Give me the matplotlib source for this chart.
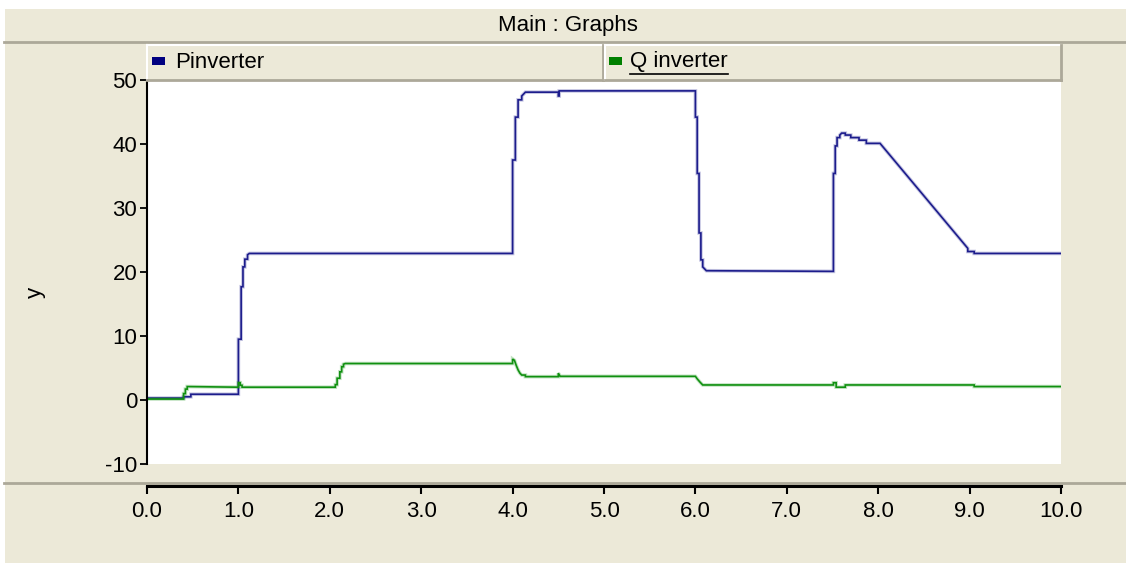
import matplotlib
matplotlib.use("Agg")
import matplotlib.pyplot as plt
from matplotlib.patches import Rectangle
from matplotlib.lines import Line2D
from matplotlib.ticker import FormatStrFormatter

# ---------------- data ----------------
p_time = [0.00, 0.40, 0.40, 0.48, 0.48, 1.00, 1.00, 1.03, 1.03, 1.05, 1.05, 1.07, 1.07,
          1.10, 1.10, 1.12, 4.00, 4.00, 4.03, 4.03, 4.06, 4.06, 4.10, 4.10, 4.14, 4.50,
          4.50, 4.51, 4.51, 6.00, 6.00, 6.02, 6.02, 6.04, 6.04, 6.06, 6.06, 6.08, 6.08,
          6.12, 7.51, 7.51, 7.53, 7.53, 7.55, 7.55, 7.58, 7.58, 7.60, 7.64, 7.64, 7.70,
          7.70, 7.79, 7.79, 7.87, 7.87, 8.02, 8.98, 8.98, 9.05, 9.05, 10.00]
p_value = [0.3, 0.3, 0.5, 0.5, 0.9, 0.9, 9.5, 9.5, 17.7, 17.7, 20.8, 20.8, 22.0,
           22.0, 22.7, 22.9, 22.9, 37.5, 37.5, 44.2, 44.2, 46.9, 46.9, 47.5, 48.1, 48.1,
           47.5, 47.5, 48.3, 48.3, 44.2, 44.2, 35.4, 35.4, 26.1, 26.1, 21.9, 21.9, 20.8,
           20.2, 20.1, 35.4, 35.4, 39.7, 39.7, 41.0, 41.0, 41.4, 41.7, 41.7, 41.4, 41.4,
           41.0, 41.0, 40.6, 40.6, 40.1, 40.1, 23.7, 23.2, 23.2, 22.9, 22.9]

q_time = [0.00, 0.40, 0.40, 0.42, 0.42, 0.44, 0.44, 1.00, 1.00, 1.02, 1.02, 1.04, 1.04,
          2.06, 2.06, 2.08, 2.08, 2.11, 2.11, 2.13, 2.13, 2.15, 2.15, 2.17, 4.00, 4.00,
          4.02, 4.04, 4.06, 4.08, 4.10, 4.14, 4.14, 4.50, 4.50, 4.52, 6.00, 6.02, 6.05,
          6.08, 7.51, 7.51, 7.54, 7.54, 7.64, 7.64, 9.05, 9.05, 10.00]
q_value = [0.15, 0.15, 1.0, 1.0, 1.7, 1.7, 2.1, 2.0, 2.7, 2.7, 2.3, 2.3, 2.0,
           2.0, 2.4, 2.4, 3.4, 3.4, 4.4, 4.4, 5.2, 5.2, 5.6, 5.7, 5.7, 6.4,
           6.2, 5.4, 4.7, 4.2, 3.9, 3.9, 3.65, 3.65, 4.2, 3.7, 3.7, 3.3, 2.8,
           2.35, 2.35, 2.7, 2.7, 2.0, 2.0, 2.35, 2.35, 2.1, 2.1]

series_names = ["Pinverter", "Q inverter"]
x_ticks = [0, 1, 2, 3, 4, 5, 6, 7, 8, 9, 10]
y_ticks = [-10, 0, 10, 20, 30, 40, 50]
title_text = "Main : Graphs"
y_label = "y"

# ---------------- styling ----------------
W, H = 1126, 565
BEIGE = "#ECE9D8"
GRAY = "#ACA899"
NAVY = "#1c1c8c"
GREEN = "#109010"
FONT = "Liberation Sans"
FS = 16

plt.rcParams["font.family"] = [FONT, "DejaVu Sans"]
plt.rcParams["axes.unicode_minus"] = False

fig = plt.figure(figsize=(W / 100, H / 100), dpi=100)
fig.patch.set_facecolor("white")


def fx(px):
    return px / W


def fy(py):
    return 1 - py / H


def frect(x0, y0, x1, y1, **kw):
    fig.add_artist(Rectangle((fx(x0), fy(y1)), fx(x1) - fx(x0), fy(y0) - fy(y1),
                             transform=fig.transFigure, **kw))


def fline(x0, y0, x1, y1, **kw):
    fig.add_artist(Line2D([fx(x0), fx(x1)], [fy(y0), fy(y1)],
                          transform=fig.transFigure, **kw))


# beige panel
frect(5, 9, W, 563, facecolor=BEIGE, edgecolor="none", zorder=0)
# separators
fline(4, 41.5, W, 41.5, color=GRAY, lw=2, zorder=1)
fline(4, 483, W, 483, color=GRAY, lw=2, zorder=1)

# title
fig.text(fx(568), fy(25), title_text, ha="center", va="center", fontsize=FS,
         color="black")

# legend bar
L_TOP, L_BOT = 45, 80
boxes = [(147, 603), (605, 1061)]
for (x0, x1) in boxes:
    frect(x0, L_TOP, x1, L_BOT, facecolor=BEIGE, edgecolor="none", zorder=2)
    fline(x0, L_TOP, x1, L_TOP, color="white", lw=1.5, zorder=3)
    fline(x0, L_TOP, x0, L_BOT, color="white", lw=1.5, zorder=3)
    fline(x0, L_BOT, x1, L_BOT, color=GRAY, lw=2, zorder=3)
    fline(x1, L_TOP, x1, L_BOT, color=GRAY, lw=2, zorder=3)

frect(152, 57, 165, 65, facecolor="#000080", edgecolor="none", zorder=4)
fig.text(fx(175), fy(62), series_names[0], ha="left", va="center", fontsize=FS,
         color="black", zorder=4)
frect(609, 57, 622, 65, facecolor="#008000", edgecolor="none", zorder=4)
qtxt = fig.text(fx(630), fy(62), series_names[1], ha="left", va="center",
                fontsize=FS, color="black", zorder=4)

# main axes
ax_left, ax_right, ax_top, ax_bot = 147, 1061, 80, 464
ax = fig.add_axes([fx(ax_left), fy(ax_bot), fx(ax_right) - fx(ax_left),
                   fy(ax_top) - fy(ax_bot)])
ax.set_facecolor("white")
ax.set_zorder(2)

for tt, vv, c in [(p_time, p_value, NAVY), (q_time, q_value, GREEN)]:
    ax.plot(tt, vv, color=c, lw=2.6, alpha=0.25, solid_joinstyle="miter")
    ax.plot(tt, vv, color=c, lw=1.2, solid_joinstyle="miter")

ax.set_xlim(0, 10)
ax.set_ylim(-10, 50)
ax.set_xticks(x_ticks)
ax.set_yticks(y_ticks)
ax.xaxis.set_major_formatter(FormatStrFormatter("%.1f"))

for s in ["top", "right"]:
    ax.spines[s].set_visible(False)
ax.spines["left"].set_linewidth(1.5)
ax.spines["bottom"].set_linewidth(2.2)
ax.spines["bottom"].set_position(("outward", 22 * 72 / 100))

ax.tick_params(axis="y", direction="out", length=5, width=1.3, pad=2,
               labelsize=FS, colors="black")
ax.tick_params(axis="x", direction="out", length=6, width=1.5, pad=5,
               labelsize=FS, colors="black")

fig.text(fx(35), fy(292), y_label, rotation=90, ha="center", va="center",
         fontsize=FS, color="black")

# underline for second legend entry, matched to its text width
fig.canvas.draw()
bb = qtxt.get_window_extent()
fline(bb.x0 / 1.0 * 1, 73.5, bb.x1, 73.5, color="none")
fig.add_artist(Line2D([bb.x0 / W, bb.x1 / W], [fy(74), fy(74)],
                      transform=fig.transFigure, color="black", lw=1.2, zorder=4))

fig.savefig("out.png", dpi=100, facecolor=fig.get_facecolor())
